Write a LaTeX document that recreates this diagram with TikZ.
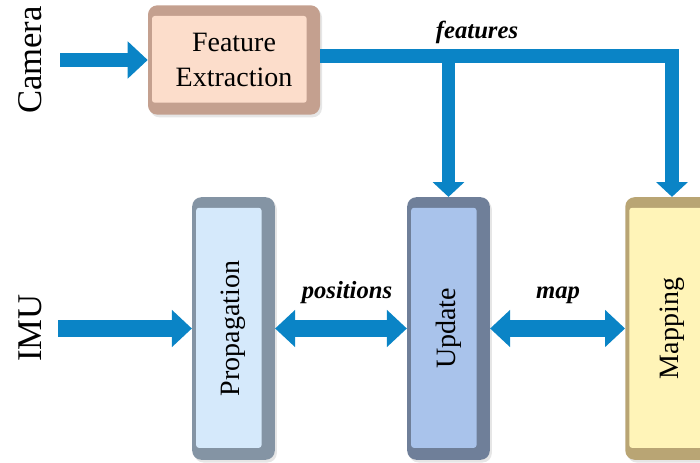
\documentclass[tikz,border=0pt]{standalone}
\usepackage{fontspec}
\setmainfont{Liberation Serif}
\usepackage{tikz}
\usetikzlibrary{calc, positioning, arrows.meta, shadows}
\definecolor{flowblue}{HTML}{0A84C6}
\definecolor{featface}{HTML}{FCDDCB}
\definecolor{featedge}{HTML}{C4A08F}
\definecolor{propface}{HTML}{D5E9FB}
\definecolor{propedge}{HTML}{8494A4}
\definecolor{updface}{HTML}{A9C3EB}
\definecolor{updedge}{HTML}{6F7F99}
\definecolor{mapface}{HTML}{FFF4B8}
\definecolor{mapedge}{HTML}{B9A574}
\tikzset{
  blk/.style 2 args={rounded corners=7pt, fill=#1, inner sep=0pt,
    drop shadow={opacity=0.2, shadow xshift=1.5pt, shadow yshift=-2pt},
    font=\fontsize{21}{26}\selectfont, align=center,
    path picture={\fill[#2, rounded corners=2pt]
      ($(path picture bounding box.north west)+(3pt,-8pt)$) rectangle
      ($(path picture bounding box.south east)+(-10pt,9pt)$);}},
  tall/.style={minimum width=62pt, minimum height=197pt},
  flow/.style={draw=flowblue, line width=10pt},
  flowthick/.style={draw=flowblue, line width=13pt},
  side/.style={rotate=90, font=\fontsize{26}{30}\selectfont},
  tag/.style={font=\fontsize{18.5}{22}\selectfont\bfseries\itshape},
  bighead/.tip={Triangle[width=27pt, length=15pt]},
  downhead/.tip={Triangle[width=23pt, length=11pt]}
}

\begin{document}
\begin{tikzpicture}[x=0.75pt, y=-0.75pt]
\useasboundingbox (0,0) rectangle (700,463);

% inputs
\node[side] (cam) at (30,60) {Camera};
\node[side] (imu) at (30,328) {IMU};

% blocks
\node[blk={featedge}{featface}, minimum width=129pt, minimum height=82pt] (FE) at (234,60) {Feature\\Extraction};
\node[blk={propedge}{propface}, tall] (P) at (233.5,328.5) {\rotatebox{90}{Propagation}};
\node[blk={updedge}{updface}, tall] (U) at (448.5,328.5) {\rotatebox{90}{Update}};
\node[blk={mapedge}{mapface}, tall, minimum width=70pt] (M) at (672,328.5) {\rotatebox{90}{Mapping}};

\coordinate (camin) at (60,60);
\coordinate (imuin) at (58,328.5);
\coordinate (fsplit) at (448.5,56);

\draw[flow, -{bighead}] (camin) -- (FE.west);
\draw[flowthick, -{bighead}] (imuin) -- (P.west);

\draw[flow, -{downhead}] (FE.east |- fsplit) -| (M.north);
\draw[flow, -{downhead}] (fsplit) -- (U.north);

\draw[flowthick, {bighead}-{bighead}] (P.east) -- (U.west);
\draw[flowthick, {bighead}-{bighead}] (U.east) -- (M.west);

% labels
\node[tag] (lfeat) at (477,32) {features};
\node[tag] (lpos) at (347,293) {positions};
\node[tag] (lmap) at (558,295) {map};
\end{tikzpicture}
\end{document}
